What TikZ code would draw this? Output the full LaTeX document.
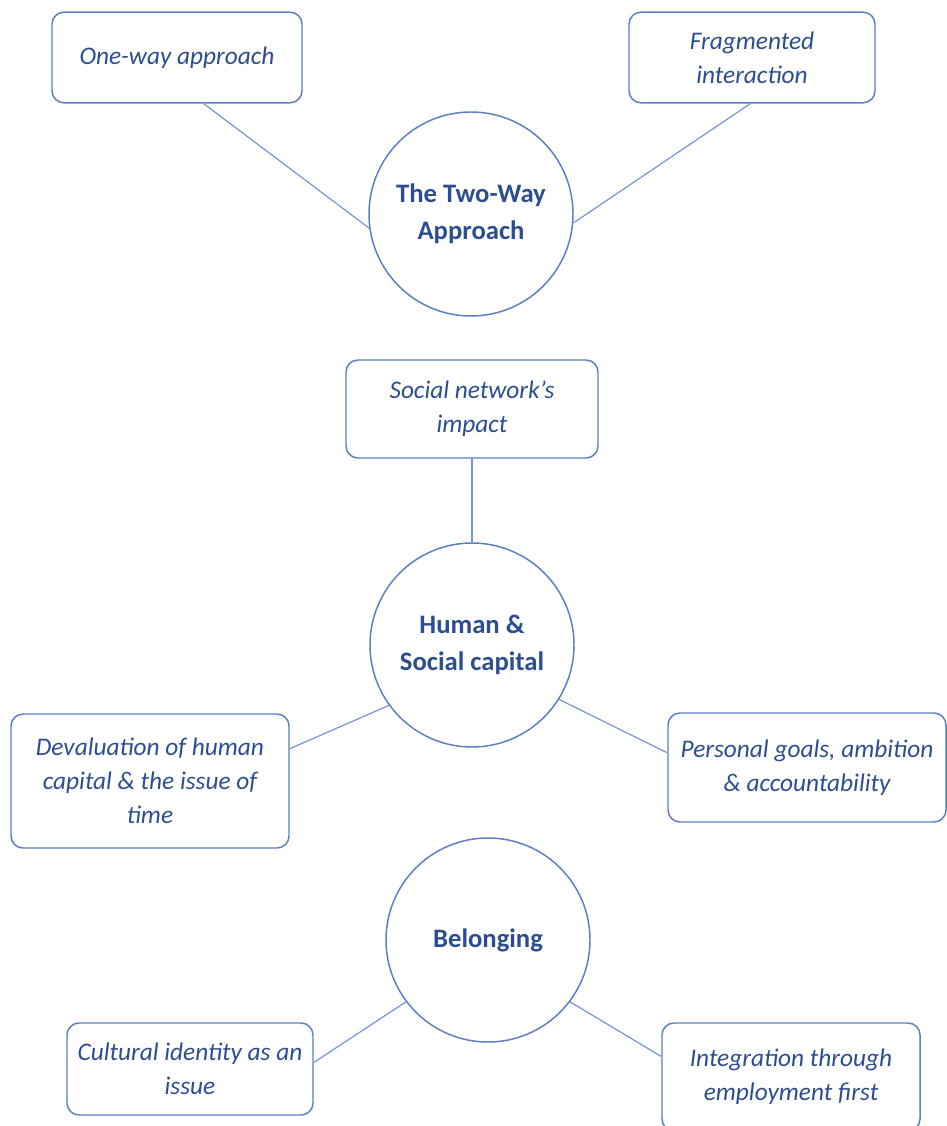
\documentclass[tikz,border=0pt]{standalone}
\usepackage{fontspec}
\setmainfont{Carlito}
\definecolor{txtblue}{RGB}{44,78,145}
\definecolor{rimblue}{RGB}{91,125,196}
\definecolor{linkblue}{RGB}{118,148,214}
\tikzset{
  topic/.style={circle,draw=rimblue,line width=1.1pt,minimum size=153pt,
    inner sep=0pt,align=center,text=txtblue,font=\fontsize{20}{28}\selectfont\bfseries},
  theme/.style={rectangle,rounded corners=9pt,draw=rimblue,line width=1.1pt,
    align=center,text=txtblue,inner sep=0pt,font=\fontsize{19}{25.5}\selectfont\itshape},
  link/.style={draw=linkblue,line width=0.9pt}
}
\begin{document}
\begin{tikzpicture}[x=0.75pt,y=-0.75pt]
\useasboundingbox (0,0) rectangle (946,1126);

      \begin{scope}[every node/.style={topic}]
        \node (1) at (471,214) {The Two-Way\\Approach};
        \node (2) at (472,645) {Human \&\\Social capital};
        \node (3) at (488,940) {Belonging};
      \end{scope}

      \begin{scope}[every node/.style={theme}]
        \node[minimum width=187.5pt,minimum height=68pt] (4) at (177,57.5) {One-way approach};
        \node[minimum width=184.5pt,minimum height=68pt] (5) at (752,57.5) {Fragmented\\interaction};
        \node[minimum width=189pt,minimum height=73.5pt] (6) at (472,409) {Social network's\\impact};
        \node[minimum width=208.5pt,minimum height=100.5pt] (7) at (150,781) {Devaluation of human\\capital \& the issue of\\time};
        \node[minimum width=208.5pt,minimum height=81.75pt] (8) at (807,767.5) {Personal goals, ambition\\\& accountability};
        \node[minimum width=184.5pt,minimum height=69pt] (9) at (190,1069) {Cultural identity as an\\issue};
        \node[minimum width=193.5pt,minimum height=81pt] (10) at (791,1077) {Integration through\\employment first};
      \end{scope}

      \begin{scope}[every edge/.style={link}]
        \path (4.-60) edge (1.188);
        \path (5.-92) edge (1.-5);
        \path (6.south) edge (2.north);
        \path (7.13) edge (2.216);
        \path (2.-32) edge (8.174);
        \path (9.3) edge (3.217);
        \path (3.-37) edge (10.171);
      \end{scope}

\end{tikzpicture}
\end{document}
